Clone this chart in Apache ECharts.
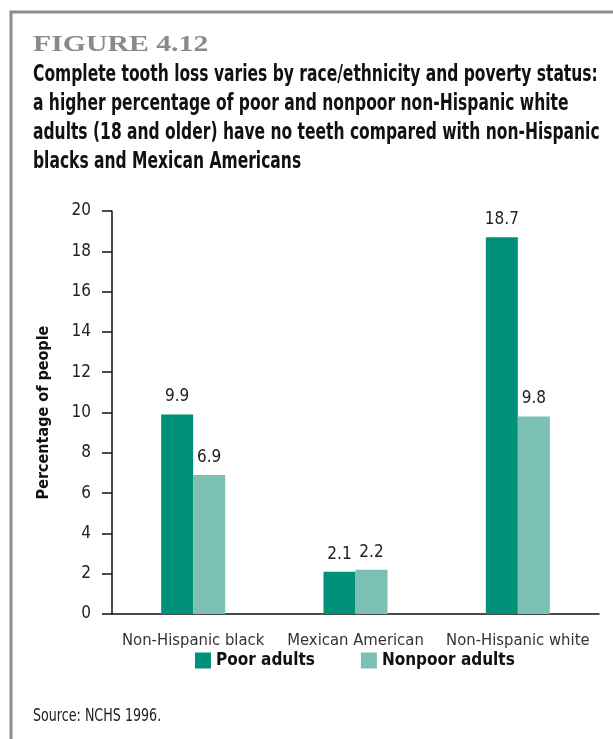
<!DOCTYPE html>
<html><head><meta charset="utf-8">
<script src="https://cdn.jsdelivr.net/npm/echarts@6/dist/echarts.min.js"></script>
<style>html,body{margin:0;padding:0;background:#fff}#c{width:613px;height:739px}</style>
</head><body><div id="c"></div>
<script>
const categories = ['Non-Hispanic black', 'Mexican American', 'Non-Hispanic white'];
const poorAdults = [9.9, 2.1, 18.7];
const nonpoorAdults = [6.9, 2.2, 9.8];
const seriesNames = ['Poor adults', 'Nonpoor adults'];
const yTicks = [0, 2, 4, 6, 8, 10, 12, 14, 16, 18, 20];

const NARROW = '"Liberation Sans Narrow", "DejaVu Sans Condensed", sans-serif';
const chart = echarts.init(document.getElementById('c'), null, {renderer: 'canvas'});
chart.setOption({
  animation: false,
  graphic: [
    {type: 'polyline', shape: {points: [[11, 739], [11, 12], [613, 12]]}, style: {stroke: '#8c8c8c', lineWidth: 3, fill: null}},
    {type: 'text', x: 33, y: 33, scaleX: 1.24, style: {text: 'FIGURE 4.12', font: 'bold 24px "Liberation Serif", serif', fill: '#8a8a8a', textVerticalAlign: 'top'}},
    {type: 'text', x: 33, y: 61, scaleX: 0.75, style: {text: 'Complete tooth loss varies by race/ethnicity and poverty status:\na higher percentage of poor and nonpoor non-Hispanic white\nadults (18 and older) have no teeth compared with non-Hispanic\nblacks and Mexican Americans', font: 'bold 23px ' + NARROW, fill: '#111', lineHeight: 29, textVerticalAlign: 'top'}},
    {type: 'text', x: 33, y: 708, scaleX: 0.83, style: {text: 'Source: NCHS 1996.', font: '17px ' + NARROW, fill: '#222', textVerticalAlign: 'top'}}
  ],
  legend: {
    left: 190, top: 647, itemWidth: 16, itemHeight: 16, itemGap: 46, itemTextGap: 14,
    icon: 'rect',
    textStyle: {fontFamily: NARROW, fontWeight: 'bold', fontSize: 17, color: '#111'},
    data: seriesNames
  },
  grid: {left: 112, top: 211, right: 14, bottom: 125, containLabel: false},
  xAxis: {
    type: 'category', data: categories,
    axisLine: {lineStyle: {color: '#111', width: 1.5}},
    axisTick: {length: 9, lineStyle: {color: '#111', width: 1.5}},
    axisLabel: {fontFamily: NARROW, fontSize: 16.5, color: '#333', margin: 18, interval: 0}
  },
  yAxis: {
    type: 'value', min: 0, max: 20, interval: 2,
    name: 'Percentage of people', nameLocation: 'middle', nameGap: 60,
    nameTextStyle: {fontFamily: NARROW, fontWeight: 'bold', fontSize: 16, color: '#111'},
    axisLine: {show: true, lineStyle: {color: '#111', width: 1.5}},
    axisTick: {show: true, length: 10, lineStyle: {color: '#111', width: 1.5}},
    splitLine: {show: false},
    axisLabel: {fontFamily: NARROW, fontSize: 17, color: '#222', margin: 21,
      formatter: v => yTicks.includes(v) ? String(v) : ''}
  },
  series: [
    {name: seriesNames[0], type: 'bar', data: poorAdults, barWidth: 32, barGap: '0%',
     itemStyle: {color: '#00917a'},
     label: {show: true, position: 'top', distance: 9, fontFamily: NARROW, fontSize: 17, color: '#222'}},
    {name: seriesNames[1], type: 'bar', data: nonpoorAdults, barWidth: 32, barGap: '0%',
     itemStyle: {color: '#7bc0b3'},
     label: {show: true, position: 'top', distance: 9, fontFamily: NARROW, fontSize: 17, color: '#222'}}
  ]
});
</script></body></html>
